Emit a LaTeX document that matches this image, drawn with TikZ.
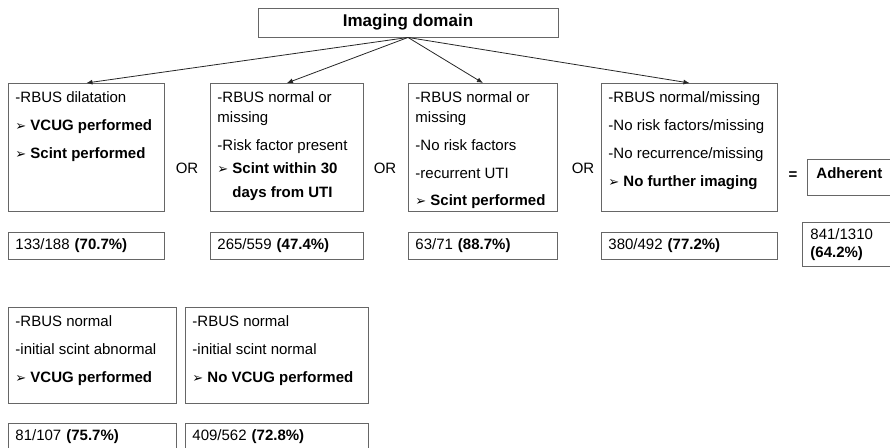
\documentclass[tikz,border=0pt]{standalone}
\usepackage{fontspec}
\setmainfont{Liberation Sans}
\newfontfamily\dingfont{DejaVu Sans}
\usetikzlibrary{arrows.meta}
\tikzset{%
    crit/.style={draw=black!60,line width=0.9pt,anchor=north west,inner xsep=7pt,inner ysep=8pt},
    res/.style={draw=black!60,line width=0.9pt,anchor=north west,inner xsep=7pt,minimum height=27pt,align=left}
}
\newcommand{\pointer}{\makebox[15pt][l]{\dingfont\fontsize{13}{13}\selectfont ➢}}
\newcommand{\critbox}[3]{\parbox[t][#1][t]{#2}{#3}}

\begin{document}
\begin{tikzpicture}[
                x=1pt, y=-1pt,
                font=\fontsize{15}{20}\selectfont,
                conn/.style={draw=black!85,line width=0.8pt,-{Latex[length=6pt,width=5pt]}}
            ]
            \useasboundingbox (0,0) rectangle (890,447);

            \node[draw=black!60,line width=0.9pt,minimum width=300pt,minimum height=29pt,font=\fontsize{17}{20}\selectfont\bfseries] (dom) at (408,22.5) {Imaging domain};

            \node[crit] (c1) at (8,83) {\critbox{112pt}{142pt}{-RBUS dilatation\\[8pt]
                \pointer\textbf{VCUG performed}\\[8pt]
                \pointer\textbf{Scint performed}}};
            \node[crit] (c2) at (210,83) {\critbox{112pt}{139pt}{-RBUS normal or\\missing\\[8pt]
                -Risk factor present\\[3pt]
                \pointer\textbf{Scint within 30}\\[4pt]
                \hspace*{15pt}\textbf{days from UTI}}};
            \node[crit] (c3) at (408,83) {\critbox{112pt}{135pt}{-RBUS normal or\\missing\\[8pt]
                -No risk factors\\[8pt]
                -recurrent UTI\\[7pt]
                \pointer\textbf{Scint performed}}};
            \node[crit] (c4) at (601,83) {\critbox{112pt}{162pt}{-RBUS normal/missing\\[8pt]
                -No risk factors/missing\\[8pt]
                -No recurrence/missing\\[8pt]
                \pointer\textbf{No further imaging}}};

            \node (or1) at (187,168) {OR};
            \node (or2) at (385,168) {OR};
            \node (or3) at (583,168) {OR};
            \node (eq) at (793,176) {\textbf{=}};
            \node[res,text width=68pt,inner xsep=9pt,minimum height=36pt,text depth=8pt] (adh) at (807,159) {\textbf{Adherent}};

            \node[res,text width=142pt] (r1) at (8,232) {133/188 \textbf{(70.7\%)}};
            \node[res,text width=139pt] (r2) at (210,232) {265/559 \textbf{(47.4\%)}};
            \node[res,text width=135pt] (r3) at (408,232) {63/71 \textbf{(88.7\%)}};
            \node[res,text width=162pt] (r4) at (601,232) {380/492 \textbf{(77.2\%)}};
            \node[res,text width=74pt,inner xsep=8pt,minimum height=44pt,font=\fontsize{15}{18}\selectfont] (tot) at (802,222) {841/1310\\\textbf{(64.2\%)}};

            \node[crit] (c5) at (8,307) {\critbox{80pt}{154pt}{-RBUS normal\\[8pt]
                -initial scint abnormal\\[8pt]
                \pointer\textbf{VCUG performed}}};
            \node[crit] (c6) at (185,307) {\critbox{80pt}{169pt}{-RBUS normal\\[8pt]
                -initial scint normal\\[8pt]
                \pointer\textbf{No VCUG performed}}};

            \node[res,text width=154pt] (r5) at (8,423) {81/107 \textbf{(75.7\%)}};
            \node[res,text width=169pt] (r6) at (185,423) {409/562 \textbf{(72.8\%)}};

            \draw[conn] (dom.south) -- (c1.north);
            \draw[conn] (dom.south) -- (c2.north);
            \draw[conn] (dom.south) -- (c3.north);
            \draw[conn] (dom.south) -- (c4.north);
        \end{tikzpicture}
\end{document}
